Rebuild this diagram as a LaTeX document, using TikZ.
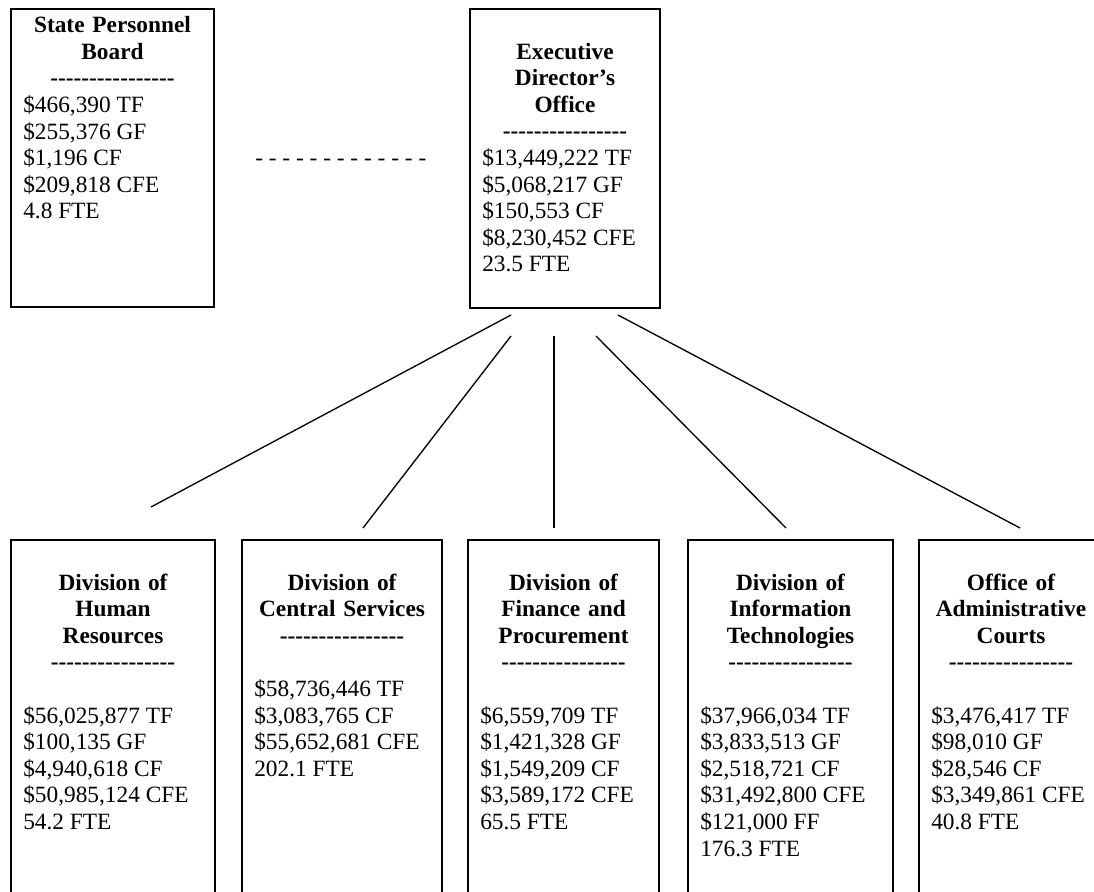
\documentclass[tikz,border=0pt]{standalone}
\usepackage{fontspec}
\setmainfont{Liberation Serif}
\usetikzlibrary{positioning}
\newcommand{\chartsize}{\fontsize{17.5pt}{19.9pt}\selectfont}
\newcommand{\sepline}{-{}-{}-{}-{}-{}-{}-{}-{}-{}-{}-{}-{}-{}-{}-{}-}
\begin{document}
\begin{tikzpicture}[x=0.75pt, y=-0.75pt,
    frame/.style={draw, line width=1.5pt, anchor=north west, inner sep=0pt, outer sep=0pt},
    head/.style={anchor=north, inner sep=0pt, align=center, font=\chartsize\bfseries},
    figs/.style={anchor=north west, inner sep=0pt, align=left, font=\chartsize, xshift=9pt},
    link/.style={line width=1pt}]
\useasboundingbox (0,0) rectangle (1094,891);
\clip (0,0) rectangle (1094,891);
% top row
\node[frame, minimum width=203*0.75pt, minimum height=298*0.75pt] (board) at (11,9) {};
\node[head, text width=203*0.75pt, below=3.6pt of board.north] (board-h)
    {\strut State Personnel\\Board\\\sepline\strut};
\node[figs] (board-f) at (board.west |- board-h.south)
    {\strut\$466,390 TF\\\$255,376 GF\\\$1,196 CF\\\$209,818 CFE\\4.8 FTE\strut};
\node[frame, minimum width=190*0.75pt, minimum height=299*0.75pt] (exec) at (470,9) {};
\node[head, text width=190*0.75pt, below=23.5pt of exec.north] (exec-h)
    {\strut Executive\\Director's\\Office\\\sepline\strut};
\node[figs] (exec-f) at (exec.west |- exec-h.south)
    {\strut\$13,449,222 TF\\\$5,068,217 GF\\\$150,553 CF\\\$8,230,452 CFE\\23.5 FTE\strut};
\node[anchor=base west, inner sep=0pt, font=\chartsize] (dots) at (255,166)
    {- - - - - - - - - - - - -};
% divisions
\foreach \n/\x/\w/\title/\amounts in {
    hr/11/204/{Division of\\Human\\Resources}/{\$56,025,877 TF\\\$100,135 GF\\\$4,940,618 CF\\\$50,985,124 CFE\\54.2 FTE},
    cs/242/200/{Division of\\Central Services}/{\$58,736,446 TF\\\$3,083,765 CF\\\$55,652,681 CFE\\202.1 FTE},
    fp/468/191/{Division of\\Finance and\\Procurement}/{\$6,559,709 TF\\\$1,421,328 GF\\\$1,549,209 CF\\\$3,589,172 CFE\\65.5 FTE},
    it/688/205/{Division of\\Information\\Technologies}/{\$37,966,034 TF\\\$3,833,513 GF\\\$2,518,721 CF\\\$31,492,800 CFE\\\$121,000 FF\\176.3 FTE},
    ac/919/184/{Office of\\Administrative\\Courts}/{\$3,476,417 TF\\\$98,010 GF\\\$28,546 CF\\\$3,349,861 CFE\\40.8 FTE}}{
  \node[frame, minimum width=\w*0.75pt, minimum height=360*0.75pt] (\n) at (\x,540) {};
  \node[head, text width=\w*0.75pt, below=23.5pt of \n.north] (\n-h) {\strut\title\\\sepline\strut};
  \node[figs, yshift=-19.9pt] (\n-f) at (\n.west |- \n-h.south) {\strut\amounts\strut};
}
% lines
\foreach \i/\tx/\ty/\bx/\by in {1/511/315/151/507, 2/511/336/363/528, 3/554/336/554/528,
    4/596/336/786/528, 5/618/315/1020/528}{
  \coordinate (top\i) at (\tx,\ty);
  \coordinate (bot\i) at (\bx,\by);
  \draw[link] (top\i) -- (bot\i);
}
\end{tikzpicture}
\end{document}
